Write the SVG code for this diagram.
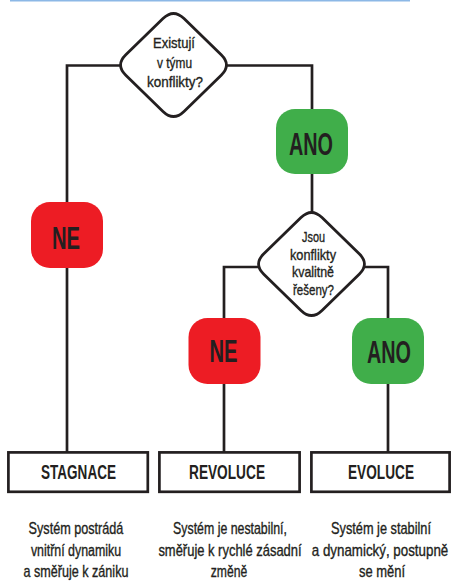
<svg xmlns="http://www.w3.org/2000/svg" width="451" height="581" viewBox="0 0 451 581">
<style>
.ln{fill:none;stroke:#231f20;stroke-width:2.7;stroke-linejoin:miter}
.dia{fill:#fff;stroke:#231f20;stroke-width:2.8;stroke-linejoin:round}
.res{fill:#fff;stroke:#231f20;stroke-width:2.7}
.no{fill:#ed1c24}
.yes{fill:#40ae4a}
text{font-family:"Liberation Sans",Arial,sans-serif;fill:#231f20;text-anchor:middle}
.q{font-size:15px;stroke:#231f20;stroke-width:0.35}
.big{font-size:31px;font-weight:bold}
.lab{font-size:20px;font-weight:bold}
.d{font-size:16px;stroke:#231f20;stroke-width:0.35}
</style>
<defs>
<path id="dshape" d="M-10.5,-46.4 Q0,-56.6 10.5,-46.4 L47.7,-10.2 Q58.2,0 47.7,10.2 L10.5,46.4 Q0,56.6 -10.5,46.4 L-47.7,10.2 Q-58.2,0 -47.7,-10.2 Z"/>
</defs>
<rect x="10" y="0" width="400" height="1.5" fill="#8cb8e6"/>
<g id="connectors">
<path class="ln" d="M121,65.5 H67 V452"/>
<path class="ln" d="M226,65.5 H312 V110"/>
<path class="ln" d="M312,173 V212"/>
<path class="ln" d="M259,267 H224 V452"/>
<path class="ln" d="M364,267 H388 V452"/>
</g>
<g id="q1">
<use href="#dshape" class="dia" transform="translate(173.5,65)"/>
<text class="q" x="174" y="48" textLength="42" lengthAdjust="spacingAndGlyphs">Existují</text>
<text class="q" x="174.5" y="67.5" textLength="35" lengthAdjust="spacingAndGlyphs">v týmu</text>
<text class="q" x="175" y="87" textLength="56" lengthAdjust="spacingAndGlyphs">konflikty?</text>
</g>
<g id="ano1">
<rect class="yes" x="276" y="109" width="72" height="65" rx="19"/>
<text class="big" x="311" y="155" textLength="44" lengthAdjust="spacingAndGlyphs">ANO</text>
</g>
<g id="ne1">
<rect class="no" x="31" y="202" width="72" height="66" rx="19"/>
<text class="big" x="66" y="249" textLength="28" lengthAdjust="spacingAndGlyphs">NE</text>
</g>
<g id="q2">
<use href="#dshape" class="dia" transform="translate(311.5,264)"/>
<text class="q" x="313.5" y="242" textLength="23" lengthAdjust="spacingAndGlyphs">Jsou</text>
<text class="q" x="313" y="259.5" textLength="46" lengthAdjust="spacingAndGlyphs">konflikty</text>
<text class="q" x="313" y="277" textLength="42" lengthAdjust="spacingAndGlyphs">kvalitně</text>
<text class="q" x="313.5" y="294.5" textLength="41" lengthAdjust="spacingAndGlyphs">řešeny?</text>
</g>
<g id="ne2">
<rect class="no" x="188.5" y="318" width="72" height="66" rx="19"/>
<text class="big" x="223.5" y="362" textLength="28" lengthAdjust="spacingAndGlyphs">NE</text>
</g>
<g id="ano2">
<rect class="yes" x="352" y="318" width="72" height="66" rx="19"/>
<text class="big" x="389" y="363" textLength="44" lengthAdjust="spacingAndGlyphs">ANO</text>
</g>
<g id="stagnace">
<rect class="res" x="8.4" y="452.4" width="139.4" height="39.4"/>
<text class="lab" x="78.5" y="479" textLength="75" lengthAdjust="spacingAndGlyphs">STAGNACE</text>
<text class="d" transform="translate(76,534) scale(0.79,1)">Systém postrádá</text>
<text class="d" transform="translate(76,555.5) scale(0.775,1)">vnitřní dynamiku</text>
<text class="d" transform="translate(76,577) scale(0.787,1)">a směřuje k zániku</text>
</g>
<g id="revoluce">
<rect class="res" x="159.4" y="452.4" width="140.2" height="39.4"/>
<text class="lab" x="227" y="479" textLength="76" lengthAdjust="spacingAndGlyphs">REVOLUCE</text>
<text class="d" transform="translate(230,534) scale(0.772,1)">Systém je nestabilní,</text>
<text class="d" transform="translate(230,555.5) scale(0.81,1)">směřuje k rychlé zásadní</text>
<text class="d" transform="translate(229,577) scale(0.76,1)">změně</text>
</g>
<g id="evoluce">
<rect class="res" x="311.4" y="452.4" width="138.2" height="39.4"/>
<text class="lab" x="381" y="479" textLength="66" lengthAdjust="spacingAndGlyphs">EVOLUCE</text>
<text class="d" transform="translate(381,534) scale(0.797,1)">Systém je stabilní</text>
<text class="d" transform="translate(380,555.5) scale(0.835,1)">a dynamický, postupně</text>
<text class="d" transform="translate(382,577) scale(0.81,1)">se mění</text>
</g>
</svg>
